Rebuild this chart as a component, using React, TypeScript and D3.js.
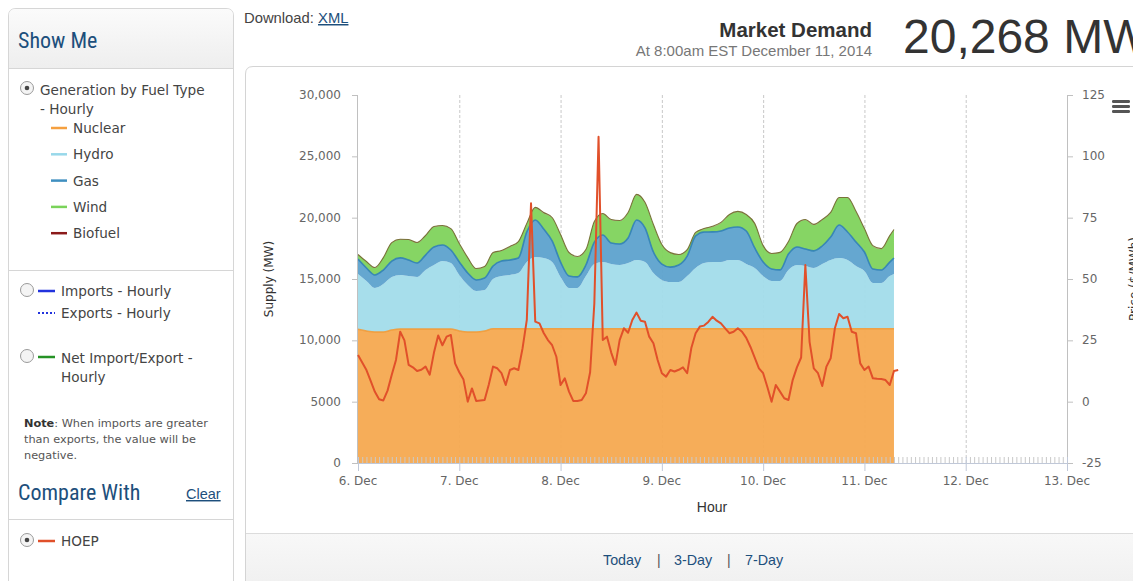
import React from 'react';
import * as d3 from 'd3';

// hourly samples every 2h from Dec 6 00:00, last sample at 07:00 Dec 11
const stackHours = [...d3.range(0, 127, 2), 127];

const nuclear = [
  10900, 10760, 10680, 10680, 10840, 10920, 10920, 10920, 10920, 10920, 10920, 10920,
  10760, 10680, 10680, 10760, 10950, 10950, 10950, 10950, 10950, 10950, 10950, 10950,
  10950, 10950, 10950, 10950, 10950, 10950, 10950, 10950, 10950, 10950, 10950, 10950,
  10950, 10950, 10950, 10950, 10950, 10950, 10950, 10950, 10950, 10950, 10950, 10950,
  10950, 10950, 10950, 10950, 10950, 10950, 10950, 10950, 10950, 10950, 10950, 10950,
  10950, 10950, 10950, 10950, 10950,
];
const hydro = [
  4510, 4080, 3590, 3910, 4320, 4410, 4320, 4240, 4810, 5220, 5550, 5380,
  4570, 3830, 3340, 3340, 4050, 4290, 4380, 4540, 5440, 5840, 5760, 5440,
  4210, 3320, 3320, 4290, 5270, 5440, 5270, 5190, 5350, 5600, 5440, 4540,
  3970, 3800, 3800, 4290, 4950, 5350, 5440, 5440, 5600, 5600, 5270, 4950,
  4290, 3890, 3890, 4780, 5190, 5110, 4950, 5270, 5600, 5760, 5600, 5110,
  4700, 3720, 3720, 4290, 4460,
];
const gas = [
  1220, 1060, 1060, 1140, 1300, 1390, 1300, 1140, 1220, 1470, 1300, 1060,
  1060, 980, 900, 980, 1060, 1220, 1220, 1220, 2450, 3020, 2360, 1710,
  1220, 980, 900, 900, 1790, 2200, 1710, 1710, 2040, 3260, 2770, 1710,
  1300, 1220, 1390, 1630, 2610, 2530, 2450, 2530, 2610, 2690, 2690, 1630,
  1140, 980, 900, 1300, 1470, 1390, 1390, 1470, 1870, 2690, 2280, 1960,
  1550, 1140, 1060, 1140, 1300,
];
const wind = [
  330, 490, 570, 980, 1470, 1470, 1630, 1630, 1550, 1630, 1550, 1710,
  1470, 1220, 900, 900, 1060, 820, 1060, 1300, 650, 980, 1300, 1870,
  2200, 1870, 1630, 1220, 1630, 1710, 1870, 1870, 2040, 2040, 2040, 2200,
  1550, 1140, 820, 490, 240, 240, 410, 650, 1060, 1220, 1300, 1960,
  1300, 1220, 1390, 980, 1870, 2360, 2120, 2120, 1960, 2200, 2770, 2450,
  1870, 1870, 1710, 2120, 2280,
];
const biofuel = [
  40, 40, 35, 35, 40, 45, 45, 45, 45, 45, 40, 40,
  40, 35, 35, 35, 40, 40, 45, 45, 45, 50, 50, 45,
  45, 40, 40, 40, 45, 45, 45, 45, 45, 50, 50, 45,
  40, 40, 40, 40, 45, 45, 45, 45, 45, 50, 50, 45,
  40, 40, 40, 40, 45, 45, 45, 45, 45, 50, 50, 45,
  40, 40, 40, 40, 45,
];

// HOEP, $/MWh, hourly from Dec 6 00:00
const hoep = [
  19, 16, 12.9, 8.5, 4, 1, 0.5, 4.5, 11, 17, 28.5, 25,
  15, 14, 12.5, 13, 14.3, 11, 20, 27, 23, 26.5, 27.2, 15.6,
  12, 9, 0, 5.4, 0.3, 0.5, 0.7, 7, 14.3, 13.6, 11.6, 6.8,
  12.9, 13.6, 12.9, 21.8, 33.3, 80.9, 32.6, 31.9, 28, 25.1, 23, 18.3,
  6.8, 9.5, 4.1, 0.3, 0.3, 0.7, 3.4, 12, 40, 108, 25.1, 26.5,
  20, 15, 25.1, 29.9, 28.1, 33.3, 36.3, 33, 32.6, 26.5, 23.8, 17,
  11.6, 10.2, 12.9, 12.3, 13, 14, 11.6, 22, 27.9, 30.6, 31, 32.5,
  34.6, 33, 31.9, 29.9, 27.9, 28.5, 29.9, 28.5, 26, 22.3, 18, 13.6,
  11.6, 6, 0, 6.8, 4.1, 1.4, 0.7, 8.8, 14, 18, 55.7, 24.4,
  13.6, 11.6, 6.4, 14.3, 17.7, 29.9, 35.7, 34, 34.6, 28.5, 27.9, 15.6,
  12.9, 14.3, 9.5, 9.3, 9.2, 8.8, 6.8, 12.5, 12.9,
];

const dayLabels = ['6. Dec', '7. Dec', '8. Dec', '9. Dec', '10. Dec', '11. Dec', '12. Dec', '13. Dec'];
const supplyTicks = [0, 5000, 10000, 15000, 20000, 25000, 30000];
const supplyLabels = ['0', '5000', '10,000', '15,000', '20,000', '25,000', '30,000'];
const priceTicks = [-25, 0, 25, 50, 75, 100, 125];
const priceLabels = ['-25', '0', '25', '50', '75', '100', '125'];
const rangeLinks = ['Today', '3-Day', '7-Day'];

const fuelKeys = ['nuclear', 'hydro', 'gas', 'wind', 'biofuel'];
const fuelNames = ['Nuclear', 'Hydro', 'Gas', 'Wind', 'Biofuel'];
const fuelFill: Record<string, string> = {
  nuclear: '#f6a950', hydro: '#a2dcea', gas: '#5da2cd', wind: '#80d35c', biofuel: '#8b2020',
};
const fuelLine: Record<string, string> = {
  nuclear: '#f29a36', hydro: '#98d4e6', gas: '#2f7fb6', wind: '#5fb83e', biofuel: '#6e6a2a',
};
const legendColors = ['#f5a040', '#98d8ea', '#3f8fc0', '#7ad35a', '#8b1a1a'];

const narrow = '"Liberation Sans Narrow", "Roboto Condensed", "Liberation Sans", Arial, sans-serif';
const sans = '"Liberation Sans", Arial, sans-serif';
const verd = '"DejaVu Sans", Verdana, sans-serif';
const navy = '#1d4f7c';

const t0 = Date.UTC(2014, 11, 6);
const hourDate = (h: number) => new Date(t0 + h * 3600e3);

const Radio = ({ cx, cy, on }: { cx: number; cy: number; on?: boolean }) => (
  <g>
    <circle cx={cx} cy={cy} r={6.5} fill="#f4f4f4" stroke="#9a9a9a" strokeWidth={1} />
    {on && <circle cx={cx} cy={cy} r={2.3} fill="#444" />}
  </g>
);

export default function App() {
  const left = 358, right = 1067, top = 95, bottom = 463;
  const x = d3.scaleUtc().domain([new Date(t0), new Date(Date.UTC(2014, 11, 13))]).range([left, right]);
  const yL = d3.scaleLinear().domain([0, 30000]).range([bottom, top]);
  const yR = d3.scaleLinear().domain([-25, 125]).range([bottom, top]);

  const rows = stackHours.map((h, i) => ({
    date: hourDate(h),
    nuclear: nuclear[i], hydro: hydro[i], gas: gas[i], wind: wind[i], biofuel: biofuel[i],
  }));
  const series = d3.stack<any>().keys(fuelKeys)(rows);

  const area = d3.area<any>()
    .x(d => x(d.data.date))
    .y0(d => yL(d[0]))
    .y1(d => yL(d[1]))
    .curve(d3.curveMonotoneX);
  const topLine = d3.line<any>()
    .x(d => x(d.data.date))
    .y(d => yL(d[1]))
    .curve(d3.curveMonotoneX);
  const priceLine = d3.line<number>()
    .x((d, i) => x(hourDate(i)))
    .y(d => yR(d));

  const dayTicks = x.ticks(d3.utcDay.every(1)!);
  const hourTicks = d3.utcHour.range(new Date(t0), new Date(Date.UTC(2014, 11, 13)))
    .filter(d => d.getUTCHours() !== 0);

  const lineW: Record<string, number> = { nuclear: 1.6, hydro: 0, gas: 1.6, wind: 0, biofuel: 1.1 };
  const linkX = [603, 674, 745];

  return (
    <svg width={1133} height={581} style={{ position: 'absolute', left: 0, top: 0 }}>
      <defs>
        <linearGradient id="hdr" x1="0" y1="0" x2="0" y2="1">
          <stop offset="0" stopColor="#fbfbfb" />
          <stop offset="1" stopColor="#eeeeee" />
        </linearGradient>
        <linearGradient id="ftr" x1="0" y1="0" x2="0" y2="1">
          <stop offset="0" stopColor="#f8f8f8" />
          <stop offset="1" stopColor="#efefef" />
        </linearGradient>
      </defs>

      {/* left side panel */}
      <g>
        <path d="M8.5,600 V16 Q8.5,8.5 16,8.5 H226 Q233.5,8.5 233.5,16 V600" fill="#fff" stroke="#d6d6d6" />
        <path d="M9,68 V16 Q9,9 16,9 H226 Q233,9 233,16 V68 Z" fill="url(#hdr)" />
        <line x1={9} x2={233} y1={68.5} y2={68.5} stroke="#d6d6d6" />
        <text x={18} y={48} fill={navy} fontFamily={narrow} fontSize={22}>Show Me</text>

        <Radio cx={27} cy={88} on />
        <text x={40} y={95} fill="#444" fontFamily={verd} fontSize={13.6}>Generation by Fuel Type</text>
        <text x={40} y={114} fill="#444" fontFamily={verd} fontSize={13.6}>- Hourly</text>
        {fuelNames.map((n, i) => (
          <g key={n}>
            <line x1={51} x2={67} y1={128 + i * 26.3} y2={128 + i * 26.3} stroke={legendColors[i]} strokeWidth={2.5} />
            <text x={73} y={133 + i * 26.3} fill="#444" fontFamily={verd} fontSize={13.6}>{n}</text>
          </g>
        ))}
        <line x1={9} x2={233} y1={270.5} y2={270.5} stroke="#d6d6d6" />

        <Radio cx={27} cy={290} />
        <line x1={38} x2={55} y1={291} y2={291} stroke="#2233dd" strokeWidth={2.5} />
        <text x={61} y={296} fill="#444" fontFamily={verd} fontSize={13.6}>Imports - Hourly</text>
        <line x1={38} x2={55} y1={313} y2={313} stroke="#2233dd" strokeWidth={2} strokeDasharray="2,2" />
        <text x={61} y={318} fill="#444" fontFamily={verd} fontSize={13.6}>Exports - Hourly</text>

        <Radio cx={27} cy={356} />
        <line x1={38} x2={55} y1={357} y2={357} stroke="#259225" strokeWidth={2.5} />
        <text x={61} y={363} fill="#444" fontFamily={verd} fontSize={13.6}>Net Import/Export -</text>
        <text x={61} y={382} fill="#444" fontFamily={verd} fontSize={13.6}>Hourly</text>

        <text x={24} y={427} fill="#555" fontFamily={verd} fontSize={11.3}>
          <tspan fontWeight="bold" fill="#333">Note</tspan>: When imports are greater
        </text>
        <text x={24} y={443} fill="#555" fontFamily={verd} fontSize={11.3}>than exports, the value will be</text>
        <text x={24} y={459} fill="#555" fontFamily={verd} fontSize={11.3}>negative.</text>

        <text x={18} y={500} fill={navy} fontFamily={narrow} fontSize={22}>Compare With</text>
        <text x={186} y={499} fill={navy} fontFamily={sans} fontSize={14.5} textDecoration="underline">Clear</text>
        <line x1={9} x2={233} y1={519.5} y2={519.5} stroke="#d6d6d6" />

        <Radio cx={27} cy={540} on />
        <line x1={38} x2={55} y1={541} y2={541} stroke="#e0502a" strokeWidth={2.5} />
        <text x={61} y={546} fill="#444" fontFamily={verd} fontSize={13.6}>HOEP</text>
      </g>

      {/* header */}
      <text x={244} y={23} fill="#444" fontFamily={sans} fontSize={14.8}>
        Download: <tspan fill={navy} textDecoration="underline">XML</tspan>
      </text>
      <text x={872} y={37} textAnchor="end" fill="#333" fontFamily={sans} fontWeight="bold" fontSize={20.5}>Market Demand</text>
      <text x={872} y={56} textAnchor="end" fill="#777" fontFamily={sans} fontSize={15}>At 8:00am EST December 11, 2014</text>
      <text x={903} y={53} fill="#333" fontFamily={sans} fontSize={48}>20,268 MW</text>

      {/* chart panel */}
      <path d="M245.5,600 V74 Q245.5,66.5 253,66.5 H1140" fill="#fff" stroke="#d4d4d4" />
      <rect x={246} y={533} width={900} height={60} fill="url(#ftr)" />
      <line x1={246} x2={1133} y1={533.5} y2={533.5} stroke="#dcdcdc" />
      {rangeLinks.map((t, i) => (
        <text key={t} x={linkX[i]} y={565} fill={navy} fontFamily={sans} fontSize={14.3}>{t}</text>
      ))}
      <text x={657} y={565} fill="#555" fontFamily={sans} fontSize={14}>|</text>
      <text x={727} y={565} fill="#555" fontFamily={sans} fontSize={14}>|</text>

      {/* grid */}
      {dayTicks.slice(1, -1).map((d, i) => (
        <line key={i} x1={x(d) + 0.5} x2={x(d) + 0.5} y1={top} y2={bottom} stroke="#c8c8c8" strokeDasharray="3,2" />
      ))}

      {/* stacked areas */}
      {series.map(s => (
        <path key={s.key} d={area(s) || ''} fill={fuelFill[s.key]} fillOpacity={s.key === 'biofuel' ? 0.6 : 0.95} />
      ))}
      {series.map(s => (
        <path key={'l' + s.key} d={topLine(s) || ''} fill="none" stroke={fuelLine[s.key]} strokeWidth={lineW[s.key]} strokeOpacity={0.9} />
      ))}

      {/* hourly minor ticks */}
      {hourTicks.map((d, i) => (
        <line key={i} x1={x(d) + 0.5} x2={x(d) + 0.5} y1={bottom - 6} y2={bottom} stroke="#c9c9c9" />
      ))}

      {/* axes */}
      <line x1={left - 0.5} x2={left - 0.5} y1={top} y2={bottom} stroke="#c0c0c0" />
      <line x1={right + 0.5} x2={right + 0.5} y1={top} y2={bottom} stroke="#c0c0c0" />
      <line x1={left} x2={right} y1={bottom + 0.5} y2={bottom + 0.5} stroke="#c0c8d8" />
      {supplyTicks.map((v, i) => (
        <g key={v}>
          <line x1={left - 6} x2={left} y1={yL(v) + 0.5} y2={yL(v) + 0.5} stroke="#c0c0c0" />
          <text x={341} y={yL(v) + 4} textAnchor="end" fill="#666" fontFamily={verd} fontSize={12}>{supplyLabels[i]}</text>
        </g>
      ))}
      {priceTicks.map((v, i) => (
        <g key={v}>
          <line x1={right} x2={right + 6} y1={yR(v) + 0.5} y2={yR(v) + 0.5} stroke="#c0c0c0" />
          <text x={1082} y={yR(v) + 4} fill="#666" fontFamily={verd} fontSize={12}>{priceLabels[i]}</text>
        </g>
      ))}
      {dayTicks.map((d, i) => (
        <g key={i}>
          <line x1={x(d) + 0.5} x2={x(d) + 0.5} y1={bottom - 6} y2={bottom + 8} stroke="#c0c8d8" />
          <text x={x(d)} y={485} textAnchor="middle" fill="#666" fontFamily={verd} fontSize={12}>{dayLabels[i]}</text>
        </g>
      ))}

      <text transform="translate(273,279) rotate(-90)" textAnchor="middle" fill="#333" fontFamily={verd} fontSize={12}>Supply (MW)</text>
      <text transform="translate(1138,279) rotate(-90)" textAnchor="middle" fill="#333" fontFamily={verd} fontSize={12}>Price ($/MWh)</text>
      <text x={712} y={512} textAnchor="middle" fill="#333" fontFamily={sans} fontSize={14}>Hour</text>

      {/* price */}
      <path d={priceLine(hoep) || ''} fill="none" stroke="#e1502a" strokeWidth={2} strokeLinejoin="round" />

      {/* menu */}
      {[0, 1, 2].map(i => (
        <rect key={i} x={1112} y={100 + i * 5} width={18} height={3} rx={1.2} fill="#555" />
      ))}
    </svg>
  );
}
